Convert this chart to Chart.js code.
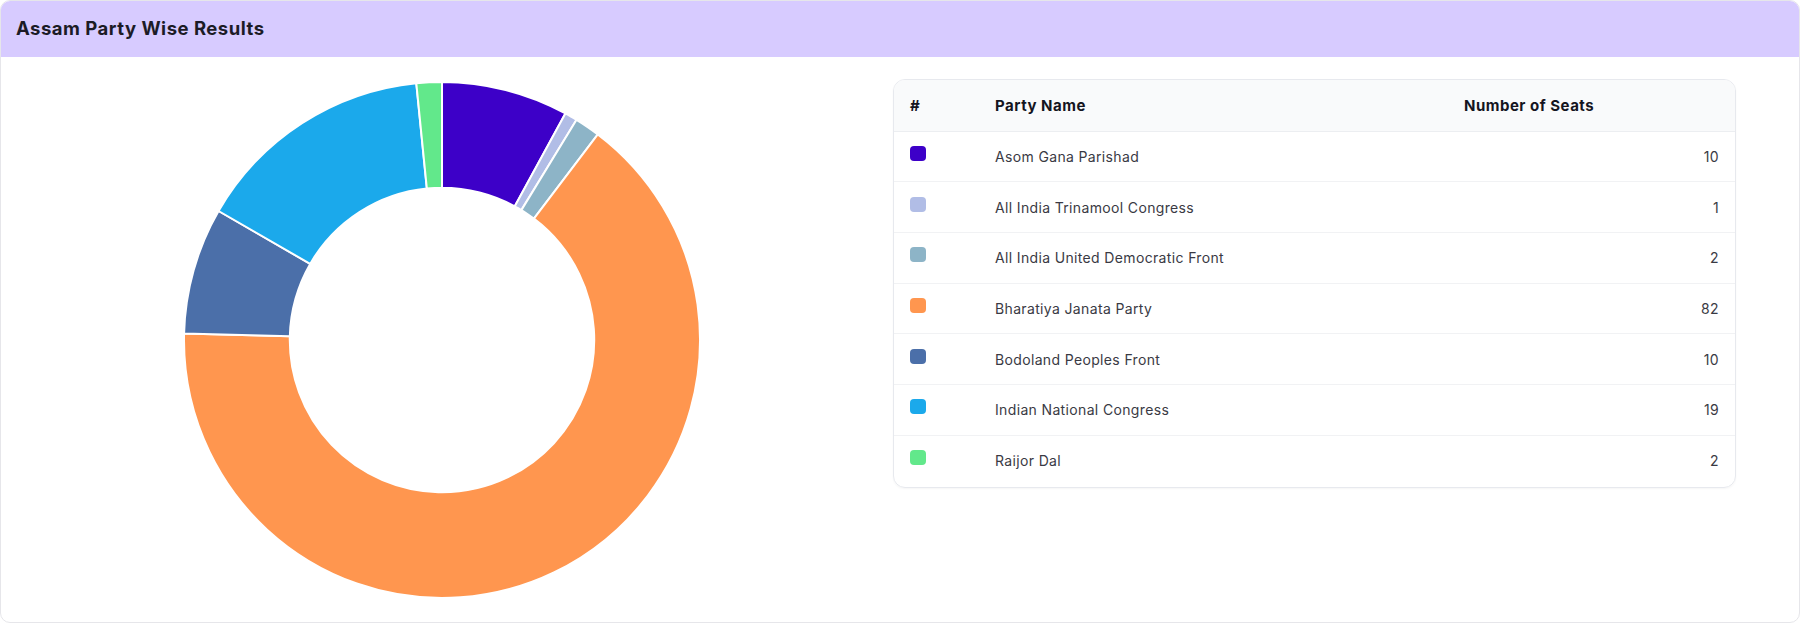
<!DOCTYPE html>
<html>
<head>
<meta charset="utf-8">
<script src="https://cdn.jsdelivr.net/npm/chart.js@4.4.1/dist/chart.umd.min.js"></script>
<style>
  html, body { margin: 0; padding: 0; background: #ffffff; }
  body { width: 1800px; height: 623px; overflow: hidden; font-family: "Inter", "Open Sans", sans-serif; }
  .card { position: absolute; left: 0; top: 0; width: 1798px; height: 621px; border: 1px solid #e6e6ea; border-radius: 10px; overflow: hidden; background: #fff; }
  .head { position: absolute; left: 0; top: 0; width: 100%; height: 56px; background: #d7cbff; }
  .head h1 { position: absolute; left: 15px; top: 0; margin: 0; line-height: 54px; font-size: 18.5px; font-weight: 700; color: #1c1b26; letter-spacing: 0.5px; }
  .chartbox { position: absolute; left: 182px; top: 80px; width: 518px; height: 518px; }
  .tbl { position: absolute; left: 892px; top: 78px; width: 841px; height: 407px; border: 1px solid #e7e9ee; border-radius: 12px; overflow: hidden; box-shadow: 0 1px 2px rgba(0,0,0,0.04); }
  table { border-collapse: collapse; width: 100%; table-layout: fixed; }
  th { height: 51px; background: #f9fafb; text-align: left; font-size: 15px; font-weight: 700; color: #15151f; border-bottom: 1px solid #eceef1; padding: 0 16px; box-sizing: border-box; letter-spacing: 0.5px; }
  td { height: 50.7px; font-size: 14px; color: #3a3a44; border-bottom: 1px solid #f1f2f4; padding: 0 16px; box-sizing: border-box; letter-spacing: 0.35px; }
  tr:last-child td { border-bottom: none; }
  td.num { text-align: right; }
  .sw { width: 16px; height: 15px; border-radius: 4px; position: relative; top: -3px; }
</style>
</head>
<body>
<div class="card">
  <div class="head"><h1>Assam Party Wise Results</h1></div>
  <div class="chartbox"><canvas id="c" width="518" height="518"></canvas></div>
  <div class="tbl"><table id="t"></table></div>
</div>
<script>
const parties = ["Asom Gana Parishad", "All India Trinamool Congress", "All India United Democratic Front", "Bharatiya Janata Party", "Bodoland Peoples Front", "Indian National Congress", "Raijor Dal"];
const seats = [10, 1, 2, 82, 10, 19, 2];
const colors = ["#3d00c8", "#b1bde6", "#8db4c7", "#ff964f", "#4b6fa9", "#1ba9eb", "#62e88b"];
const headers = ["#", "Party Name", "Number of Seats"];

// Table built from the arrays
const t = document.getElementById('t');
let html = '<colgroup><col style="width:85px"><col style="width:469px"><col></colgroup><tr>';
headers.forEach(h => html += '<th>' + h + '</th>');
html += '</tr>';
parties.forEach((p, i) => {
  html += '<tr><td><div class="sw" style="background:' + colors[i] + '"></div></td><td>' + p + '</td><td class="num">' + seats[i] + '</td></tr>';
});
t.innerHTML = html;

new Chart(document.getElementById('c'), {
  type: 'doughnut',
  data: {
    labels: parties,
    datasets: [{
      data: seats,
      backgroundColor: colors,
      borderColor: '#ffffff',
      borderWidth: 2,
      hoverOffset: 0
    }]
  },
  options: {
    responsive: false,
    animation: false,
    cutout: '59%',
    layout: { padding: 0 },
    plugins: { legend: { display: false }, tooltip: { enabled: false } }
  }
});
</script>
</body>
</html>
